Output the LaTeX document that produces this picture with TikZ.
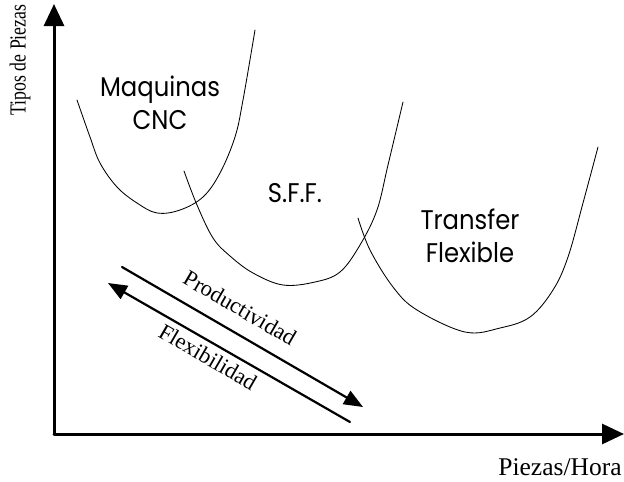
\documentclass[tikz,border=0pt]{standalone}
\usepackage{fontspec}
\setmainfont{Liberation Serif}
\newfontfamily\gothic{Poppins}
\usetikzlibrary{arrows.meta}
\newcommand\narrowtext[2][0.9]{\scalebox{#1}[1]{#2}}

\begin{document}
\begin{tikzpicture}[x=1pt, y=-1pt, line join=round, line cap=round,
    axis/.style={line width=3pt, -{Triangle[length=22pt,width=20pt]}},
    trend/.style={line width=2.2pt, -{Triangle[length=19pt,width=15pt]}},
    curve/.style={line width=0.85pt, smooth, tension=0.6},
    zone/.style={font=\gothic\fontsize{27}{33}\selectfont, align=center},
    sloped label/.style={font=\fontsize{22.5}{22.5}\selectfont, rotate=-30.2}]
  \useasboundingbox (0,0) rectangle (624,482);
  % axes
  \coordinate (O) at (54,434);
  \coordinate (ymax) at (54,4);
  \coordinate (xmax) at (624,434);
  \draw[axis] (O) -- (ymax);
  \draw[axis] (O) -- (xmax);
  \node[font=\fontsize{23}{23}\selectfont, rotate=90] (ylabel) at (20,60) {\narrowtext[0.77]{Tipos de Piezas}};
  \node[font=\fontsize{25.5}{25.5}\selectfont] (xlabel) at (560,467) {Piezas/Hora};
  % cost curves
  \draw[curve] plot coordinates {(77,100) (90,137) (100,163) (117,187) (137,203) (157,213)
    (180,210) (203,197) (220,173) (235,137) (243,100) (255,30)};
  \draw[curve] plot coordinates {(184,171) (197,205) (213,238) (230,256) (253,273) (283,285)
    (315,282) (340,272) (360,245) (377,210) (388,165) (403,102)};
  \draw[curve] plot coordinates {(358,218) (370,250) (393,287) (417,310) (465,332) (500,328)
    (530,317) (553,290) (568,257) (583,203) (598,147)};
  \node[zone] (cnc) at (160,103) {\narrowtext{Maquinas}\\\narrowtext{CNC}};
  \node[zone] (sff) at (295,193) {\narrowtext{S.F.F.}};
  \node[zone] (tf) at (470,236) {\narrowtext{Transfer}\\\narrowtext{Flexible}};
  % trends
  \coordinate (prodA) at (122,267);
  \coordinate (prodB) at (363,407);
  \coordinate (flexA) at (350,422);
  \coordinate (flexB) at (108,283);
  \draw[trend] (prodA) -- (prodB);
  \draw[trend] (flexA) -- (flexB);
  \node[sloped label] (prod) at (240,308) {Productividad};
  \node[sloped label] (flex) at (208,357) {Flexibilidad};
\end{tikzpicture}
\end{document}
